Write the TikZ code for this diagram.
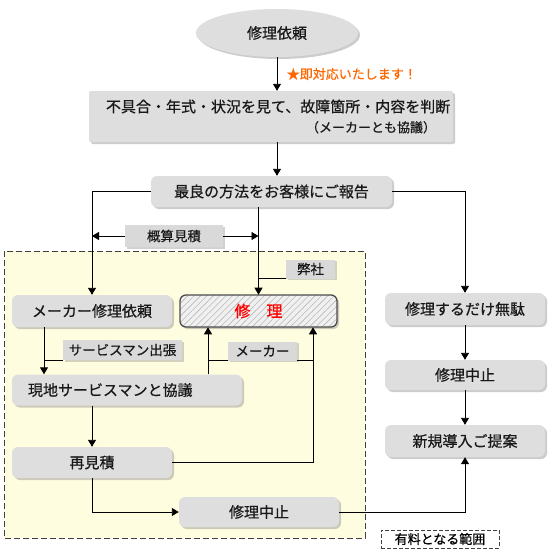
\documentclass[tikz,border=0pt]{standalone}
\usepackage{fontspec}
\setmainfont{Noto Sans CJK JP}[FakeBold=0.6]
\usetikzlibrary{shapes,arrows.meta,shadows,patterns.meta}
\definecolor{hot}{RGB}{255,102,0}

\begin{document}
\begin{tikzpicture}[x=1pt,y=-1pt]
		\tikzstyle{box} = [fill=black!13, rounded corners=6pt, inner sep=0pt, minimum height=31pt, text=black!90, font=\fontsize{15}{18}\selectfont, drop shadow={shadow xshift=2pt, shadow yshift=-2pt, opacity=.4}]
		\tikzstyle{tag} = [fill=black!15, inner sep=0pt, minimum height=20pt, text=black!90, font=\fontsize{13.5}{15}\selectfont, drop shadow={shadow xshift=1.5pt, shadow yshift=-1.5pt, opacity=.35}]
		\tikzstyle{wire} = [line width=.9pt]
		\tikzstyle{arr} = [wire, -{Triangle[length=7pt,width=8pt]}]

		\useasboundingbox (0,0) rectangle (550,560);
		\fill[white] (0,0) rectangle (550,560);

		% paid range
		\draw[fill=yellow!12, draw=black!75, dash pattern=on 6pt off 3pt] (4,251) rectangle (365,538);

		\node[box, ellipse, sharp corners, minimum width=162pt, minimum height=48pt] (req) at (277,33) {修理依頼};
		\node[box, rounded corners=2pt, minimum width=364pt, minimum height=51pt, text width=330pt, align=right, font=\fontsize{15}{20}\selectfont] (judge) at (271,116.5) {不具合・年式・状況を見て、故障箇所・内容を判断\\{\fontsize{13}{15}\selectfont （メーカーとも協議）}};
		\node[box, minimum width=241pt] (report) at (271.5,191.5) {最良の方法をお客様にご報告};

		\node[box, minimum width=160pt, minimum height=32pt] (mreq) at (92,311) {メーカー修理依頼};
		\node[box, minimum width=157pt, minimum height=32pt, draw=black!70, line width=1.3pt, preaction={fill=black!6}, pattern={Lines[angle=45, distance=4.5pt, line width=.6pt]}, pattern color=black!28, text=red, font=\fontsize{16}{18}\selectfont] (repair) at (258.5,311) {修　理};
		\node[box, minimum width=230pt, text width=198pt, inner xsep=16pt, align=left] (local) at (127,390) {現地サービスマンと協議};
		\node[box, minimum width=160pt] (reest) at (92,462.5) {再見積};
		\node[box, minimum width=160pt, minimum height=30pt] (stop2) at (259,512) {修理中止};

		\node[box, minimum width=160pt, minimum height=32pt] (useless) at (465,309) {修理するだけ無駄};
		\node[box, minimum width=160pt, minimum height=30pt] (stop1) at (465,375) {修理中止};
		\node[box, minimum width=160pt, minimum height=32pt] (propose) at (465,441) {新規導入ご提案};

		\node[tag, minimum width=98pt, minimum height=22pt] (est) at (174,236) {概算見積};
		\node[tag, minimum width=49pt, minimum height=19pt] (ours) at (310.5,269) {弊社};
		\node[tag, minimum width=119pt] (trip) at (122.5,350) {サービスマン出張};
		\node[tag, minimum width=69pt, minimum height=19pt] (maker) at (262.5,351) {メーカー};
		\node[draw=black!75, dash pattern=on 4pt off 2pt, fill=white, inner sep=0pt, minimum width=118pt, minimum height=18pt, font=\fontsize{13}{15}\selectfont] (paid) at (440,539) {有料となる範囲};

		\coordinate (mdrop) at ([xshift=-48pt]mreq.south);
		\coordinate (lup) at ([xshift=-50.5pt]repair.south);
		\coordinate (rup) at ([xshift=54.5pt]repair.south);

		\draw[arr] (req.south) -- (judge.north -| req.south) node[midway, right=6pt, text=hot, font=\fontsize{13}{15}\selectfont] {★即対応いたします！};
		\draw[arr] (judge.south -| req.south) -- (report.north -| req.south);

		\draw[arr] (report.west) -| (mreq.north);
		\draw[arr] (report.east) -| (useless.north);
		\draw[arr] (report.south -| repair.north) -- (repair.north);
		\draw[arr] (est.west) -- (est.west -| mreq.north);
		\draw[arr] (est.east) -- (est.east -| repair.north);
		\draw[wire] (ours.south west) -- (ours.south west -| repair.north);

		\draw[arr] (mdrop) -- (mdrop |- local.north);
		\draw[wire] (trip.south west) -- (trip.south west -| mdrop);
		\draw[arr] (lup |- local.north) -- (lup);
		\draw[arr] (reest.east) -| (rup);
		\draw[wire] (lup |- maker.south) -- (maker.south west);
		\draw[wire] (maker.south east) -- (rup |- maker.south);

		\draw[arr] (reest.north |- local.south) -- (reest.north);
		\draw[arr] (reest.south) |- (stop2.west);
		\draw[arr] (stop2.east) -| (propose.south);

		\draw[arr] (useless) -- (stop1);
		\draw[arr] (stop1) -- (propose);
	\end{tikzpicture}
\end{document}
